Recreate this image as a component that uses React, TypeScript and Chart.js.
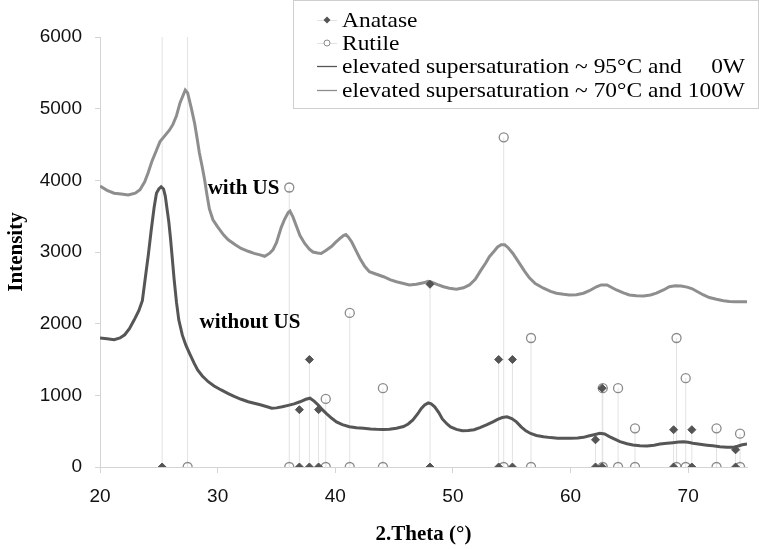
import { useEffect, useRef } from "react";
import { Chart, registerables } from "chart.js";

Chart.register(...registerables);

// ---- Data ----
const withUsTheta = [20.0, 20.6, 21.2, 21.8, 22.4, 23.0, 23.4, 23.8, 24.1, 24.4, 24.8, 25.1, 25.5, 25.9, 26.2, 26.5, 26.8, 27.05, 27.25, 27.45, 27.6, 27.8, 28.05, 28.25, 28.45, 28.7, 28.9, 29.1, 29.3, 29.6, 30.0, 30.5, 30.9, 31.5, 32.0, 32.6, 33.1, 33.6, 34.0, 34.4, 34.7, 35.0, 35.4, 35.7, 36.0, 36.15, 36.4, 36.7, 37.0, 37.4, 37.8, 38.1, 38.5, 38.8, 39.2, 39.7, 40.0, 40.4, 40.7, 40.9, 41.1, 41.4, 41.7, 42.1, 42.5, 42.9, 43.5, 44.1, 44.7, 45.2, 45.8, 46.3, 46.9, 47.5, 47.9, 48.2, 48.7, 49.2, 49.7, 50.3, 50.9, 51.4, 51.9, 52.4, 52.8, 53.1, 53.5, 53.8, 54.1, 54.4, 54.7, 55.1, 55.7, 56.1, 56.5, 57.0, 57.7, 58.3, 58.8, 59.4, 59.9, 60.5, 61.1, 61.6, 62.2, 62.6, 63.1, 63.5, 63.9, 64.5, 65.0, 65.6, 66.2, 66.8, 67.3, 67.9, 68.4, 68.9, 69.4, 69.9, 70.3, 70.8, 71.3, 71.8, 72.4, 73.0, 73.5, 74.0, 74.5, 75.0];
const withUsIntensity = [3920, 3860, 3820, 3810, 3795, 3820, 3870, 3980, 4110, 4260, 4420, 4540, 4620, 4700, 4780, 4900, 5080, 5180, 5260, 5220, 5120, 4980, 4790, 4590, 4380, 4180, 4000, 3790, 3600, 3450, 3350, 3240, 3170, 3100, 3050, 3010, 2980, 2960, 2940, 2980, 3030, 3130, 3340, 3460, 3550, 3570, 3490, 3360, 3230, 3120, 3040, 3000, 2985, 2980, 3020, 3080, 3130, 3190, 3230, 3245, 3210, 3140, 3040, 2910, 2800, 2725, 2690, 2655, 2610, 2585, 2560, 2540, 2550, 2570, 2590, 2580, 2545, 2515, 2495, 2480, 2500, 2540, 2620, 2750, 2850, 2935, 3010, 3070, 3100, 3100, 3060, 2980, 2830, 2730, 2640, 2560, 2495, 2450, 2425, 2410, 2400, 2405, 2425, 2460, 2515, 2540, 2540, 2505, 2470, 2430, 2400, 2390, 2385, 2400, 2425, 2470, 2515, 2530, 2525, 2510, 2490, 2445, 2400, 2365, 2340, 2320, 2308, 2305, 2305, 2305];

const withoutUsTheta = [20.0, 20.6, 21.2, 21.7, 22.1, 22.5, 22.9, 23.3, 23.6, 23.9, 24.1, 24.35, 24.6, 24.8, 25.0, 25.2, 25.4, 25.55, 25.7, 25.85, 26.0, 26.15, 26.3, 26.5, 26.7, 27.0, 27.3, 27.6, 28.0, 28.3, 28.7, 29.2, 29.7, 30.3, 30.9, 31.4, 32.0, 32.6, 33.2, 33.7, 34.2, 34.6, 35.0, 35.5, 36.0, 36.5, 37.0, 37.5, 37.85, 38.2, 38.55, 38.9, 39.25, 39.7, 40.1, 40.6, 41.2, 41.8, 42.4, 43.0, 43.5, 44.1, 44.6, 45.2, 45.8, 46.2, 46.6, 47.0, 47.3, 47.6, 47.9, 48.15, 48.45, 48.8, 49.1, 49.5, 49.8, 50.3, 50.8, 51.3, 51.8, 52.3, 52.9, 53.4, 53.8, 54.2, 54.6, 55.0, 55.4, 55.8, 56.2, 56.6, 57.1, 57.7, 58.3, 58.9, 59.5, 60.0, 60.6, 61.1, 61.6, 62.0, 62.5, 62.9, 63.3, 63.8, 64.2, 64.8, 65.3, 65.9, 66.5, 67.1, 67.6, 68.2, 68.7, 69.2, 69.6, 70.0, 70.4, 71.0, 71.6, 72.1, 72.7, 73.3, 73.8, 74.2, 74.6, 75.0];
const withoutUsIntensity = [1800, 1790, 1775, 1800, 1845, 1930, 2050, 2180, 2320, 2700, 2950, 3300, 3620, 3820, 3880, 3910, 3880, 3780, 3600, 3420, 3180, 2900, 2620, 2300, 2050, 1840, 1700, 1590, 1450, 1355, 1270, 1190, 1130, 1075, 1025, 985, 945, 910, 885, 865, 840, 820, 825, 840, 860, 880, 910, 945, 960, 920, 865, 800, 745, 680, 630, 590, 562, 548, 540, 530, 526, 524, 526, 540, 565, 600, 656, 740, 815, 865, 895, 880, 840, 760, 670, 600, 560, 525, 506, 508, 520, 550, 590, 630, 665, 690, 700, 675, 630, 560, 505, 468, 440, 423, 410, 400, 400, 400, 405, 414, 435, 450, 470, 460, 425, 385, 353, 325, 307, 298, 293, 305, 320, 332, 340, 348, 353, 345, 332, 318, 305, 295, 283, 277, 274, 290, 310, 320];

const anataseTheta = [25.28, 36.95, 37.8, 38.58, 48.05, 53.89, 55.06, 62.12, 62.69, 68.76, 70.31, 74.03];
const anataseIntensity = [8000, 800, 1500, 800, 2550, 1500, 1500, 380, 1100, 520, 520, 240];
const rutileTheta = [27.45, 36.09, 39.19, 41.23, 44.05, 54.32, 56.64, 62.74, 64.04, 65.48, 69.01, 69.79, 72.41, 74.41];
const rutileIntensity = [8000, 3900, 950, 2150, 1100, 4600, 1800, 1100, 1100, 540, 1800, 1240, 540, 465];

const xTicks = [20, 30, 40, 50, 60, 70];
const legendLabels = [
  "Anatase",
  "Rutile",
  "elevated supersaturation ~ 95°C and     0W",
  "elevated supersaturation ~ 70°C and 100W",
];
const curveLabels = [
  { text: "with US", x: 29.15, y: 3890 },
  { text: "without US", x: 28.46, y: 2010 },
];

// ---- Styles ----
const TOP_COLOR = "#8e8e8e";
const BOTTOM_COLOR = "#565656";
const DIAMOND_COLOR = "#545454";
const CIRCLE_COLOR = "#8a8a8a";
const DROP_COLOR = "#e2e2e2";
const AXIS_COLOR = "#d4d4d4";
const SERIF = "'Liberation Serif', 'Times New Roman', serif";
const SANS = "'Liberation Sans', Arial, sans-serif";

const pairs = (xs: number[], ys: number[]) => xs.map((x, i) => ({ x, y: ys[i] }));
const drops = (xs: number[], ys: number[]) =>
  xs.flatMap((x, i) => [{ x, y: 0 }, { x, y: ys[i] }, { x, y: null as any }]);
const marks = (xs: number[], ys: number[]) =>
  xs.flatMap((x, i) => [{ x, y: 0 }, { x, y: ys[i] }]);

const overlayPlugin = {
  id: "overlay",
  afterDraw(chart: any) {
    const ctx = chart.ctx as CanvasRenderingContext2D;
    const xs = chart.scales.x;
    const ys = chart.scales.y;
    ctx.save();
    // curve labels
    ctx.fillStyle = "#000";
    ctx.font = `bold 21px ${SERIF}`;
    ctx.textBaseline = "middle";
    ctx.textAlign = "left";
    for (const l of curveLabels) {
      ctx.fillText(l.text, xs.getPixelForValue(l.x), ys.getPixelForValue(l.y));
    }
    // legend box
    const bx = 293.5, by = 0.5, bw = 465, bh = 108;
    ctx.fillStyle = "#fff";
    ctx.fillRect(bx, by, bw, bh);
    ctx.strokeStyle = "#cfcfcf";
    ctx.lineWidth = 1;
    ctx.strokeRect(bx, by, bw, bh);
    const rows = [20, 43, 66, 90];
    const lx0 = 317, lx1 = 337, mx = 327, tx = 342;
    ctx.font = `22px ${SERIF}`;
    const sx = 403 / ctx.measureText(legendLabels[3]).width;
    rows.forEach((ry, i) => {
      ctx.beginPath();
      ctx.moveTo(lx0, ry + 0.5);
      ctx.lineTo(lx1, ry + 0.5);
      ctx.lineWidth = i < 2 ? 1 : 1.3;
      ctx.strokeStyle = i === 0 || i === 1 ? DROP_COLOR : i === 2 ? BOTTOM_COLOR : TOP_COLOR;
      ctx.stroke();
      if (i === 0) {
        ctx.beginPath();
        ctx.moveTo(mx, ry - 3.5);
        ctx.lineTo(mx + 3.5, ry);
        ctx.lineTo(mx, ry + 3.5);
        ctx.lineTo(mx - 3.5, ry);
        ctx.closePath();
        ctx.fillStyle = DIAMOND_COLOR;
        ctx.fill();
      } else if (i === 1) {
        ctx.beginPath();
        ctx.arc(mx, ry, 3, 0, Math.PI * 2);
        ctx.fillStyle = "#fff";
        ctx.fill();
        ctx.strokeStyle = CIRCLE_COLOR;
        ctx.lineWidth = 1;
        ctx.stroke();
      }
      ctx.save();
      ctx.fillStyle = "#000";
      ctx.font = `22px ${SERIF}`;
      ctx.textBaseline = "middle";
      ctx.textAlign = "left";
      ctx.translate(tx, ry + 1);
      ctx.scale(sx, 1);
      ctx.fillText(legendLabels[i], 0, 0);
      ctx.restore();
    });
    ctx.restore();
  },
};

export default function App() {
  const ref = useRef<HTMLCanvasElement>(null);
  useEffect(() => {
    const chart = new Chart(ref.current!, {
      type: "line",
      data: {
        datasets: [
          {
            label: "Anatase markers",
            data: marks(anataseTheta, anataseIntensity),
            showLine: false,
            pointStyle: "rectRot",
            pointRadius: 4,
            pointBackgroundColor: DIAMOND_COLOR,
            pointBorderColor: DIAMOND_COLOR,
            pointBorderWidth: 1,
            clip: 0,
            order: 0,
          } as any,
          {
            label: "Rutile markers",
            data: marks(rutileTheta, rutileIntensity),
            showLine: false,
            pointStyle: "circle",
            pointRadius: 4.5,
            pointBackgroundColor: "rgba(255,255,255,0)",
            pointBorderColor: CIRCLE_COLOR,
            pointBorderWidth: 1.3,
            clip: 0,
            order: 1,
          } as any,
          {
            label: legendLabels[2],
            data: pairs(withoutUsTheta, withoutUsIntensity),
            borderColor: BOTTOM_COLOR,
            borderWidth: 3,
            pointRadius: 0,
            tension: 0,
            order: 2,
          },
          {
            label: legendLabels[3],
            data: pairs(withUsTheta, withUsIntensity),
            borderColor: TOP_COLOR,
            borderWidth: 3,
            pointRadius: 0,
            tension: 0,
            order: 3,
          },
          {
            label: "Anatase lines",
            data: drops(anataseTheta, anataseIntensity),
            borderColor: DROP_COLOR,
            borderWidth: 1,
            pointRadius: 0,
            spanGaps: false,
            clip: 0,
            order: 4,
          } as any,
          {
            label: "Rutile lines",
            data: drops(rutileTheta, rutileIntensity),
            borderColor: DROP_COLOR,
            borderWidth: 1,
            pointRadius: 0,
            spanGaps: false,
            clip: 0,
            order: 5,
          } as any,
        ],
      },
      options: {
        animation: false,
        responsive: false,
        devicePixelRatio: 1,
        layout: { padding: { top: 37, right: 12, left: 0, bottom: 0 } },
        plugins: { legend: { display: false }, tooltip: { enabled: false } },
        scales: {
          x: {
            type: "linear",
            min: 20,
            max: 75,
            afterBuildTicks: (s: any) => {
              s.ticks = xTicks.map((v) => ({ value: v }));
            },
            afterFit: (s: any) => {
              s.height = 82;
            },
            ticks: {
              color: "#111",
              font: { family: SANS, size: 19 },
              padding: 12,
              maxRotation: 0,
              callback: (v: any) => String(v),
            },
            grid: { drawOnChartArea: false, drawTicks: true, tickLength: 6, color: AXIS_COLOR },
            border: { display: true, color: AXIS_COLOR },
            title: {
              display: true,
              text: "2.Theta (°)",
              color: "#000",
              font: { family: SERIF, size: 21, weight: "bold" },
              padding: { top: 2, bottom: 2 },
            },
          },
          y: {
            type: "linear",
            min: 0,
            max: 6000,
            afterFit: (s: any) => {
              s.width = 100;
            },
            ticks: {
              stepSize: 1000,
              color: "#111",
              font: { family: SANS, size: 19 },
              padding: 13,
              callback: (v: any) => String(v),
            },
            grid: { drawOnChartArea: false, drawTicks: true, tickLength: 5, color: AXIS_COLOR },
            border: { display: true, color: AXIS_COLOR },
            title: {
              display: true,
              text: "Intensity",
              color: "#000",
              font: { family: SERIF, size: 21, weight: "bold" },
              padding: { top: 4, bottom: 0 },
            },
          },
        },
      },
      plugins: [overlayPlugin],
    });
    return () => chart.destroy();
  }, []);
  return (
    <canvas
      ref={ref}
      width={759}
      height={549}
      style={{ position: "absolute", left: 0, top: 0, width: 759, height: 549 }}
    />
  );
}
